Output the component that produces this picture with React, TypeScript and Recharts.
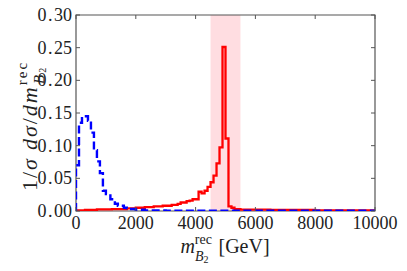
import { LineChart, Line, XAxis, YAxis, ReferenceArea } from 'recharts'

// histogram left bin edges [GeV] and heights
const signalEdges = [0, 0, 300, 700, 1200, 1700, 2000, 2300, 2600, 2900, 3200, 3400, 3500, 3700, 3800, 3900, 4100, 4200, 4300, 4400, 4500, 4600, 4700, 4800, 4900, 5000, 5100, 5200, 5300, 5500, 6500, 8000, 10000]
const signalValues = [0, 0.0008, 0.0015, 0.0025, 0.003, 0.004, 0.005, 0.006, 0.007, 0.008, 0.0095, 0.011, 0.013, 0.015, 0.016, 0.018, 0.0295, 0.027, 0.031, 0.037, 0.044, 0.054, 0.073, 0.0975, 0.251, 0.111, 0.007, 0.005, 0.003, 0.002, 0.0015, 0.001, 0.001]

const bkgEdges = [0, 0, 100, 200, 400, 500, 600, 700, 800, 900, 1000, 1150, 1300, 1400, 1600, 1700, 1800, 2000, 2300, 3000, 10000]
const bkgValues = [0, 0.07, 0.135, 0.145, 0.138, 0.12, 0.093, 0.076, 0.058, 0.031, 0.026, 0.018, 0.011, 0.008, 0.005, 0.004, 0.003, 0.002, 0.001, 0.0005, 0.0005]

const xTicks = [0, 2000, 4000, 6000, 8000, 10000]
const yTicks = [0, 0.05, 0.1, 0.15, 0.2, 0.25, 0.3]
const massWindow = [4500, 5500]

const signalData = signalEdges.map((m, i) => ({ m, v: signalValues[i] }))
const bkgData = bkgEdges.map((m, i) => ({ m, v: bkgValues[i] }))

const W = 407
const H = 271
const PLOT_W = 299
const PLOT_H = 196
const FRAME = '#555'
const serif = { fontFamily: "'Liberation Serif'" }

function XTick({ x, y, payload }: any) {
  return (
    <g>
      <line x1={x} y1={y} x2={x} y2={y - 4} stroke={FRAME} />
      <line x1={x} y1={y - PLOT_H} x2={x} y2={y - PLOT_H + 4} stroke={FRAME} />
      <text x={x} y={y + 18} textAnchor="middle" style={serif} fontSize={18} fill="#222">
        {payload.value}
      </text>
    </g>
  )
}

function YTick({ x, y, payload }: any) {
  const [a, b] = Number(payload.value).toFixed(2).split('.')
  return (
    <g>
      <line x1={x} y1={y} x2={x + 4} y2={y} stroke={FRAME} />
      <line x1={x + PLOT_W} y1={y} x2={x + PLOT_W - 4} y2={y} stroke={FRAME} />
      <text x={x - 4} y={y + 6} textAnchor="end" style={serif} fontSize={18} fill="#222">
        {a}<tspan dx={1.5}>.</tspan><tspan dx={1.5}>{b}</tspan>
      </text>
    </g>
  )
}

export default function App() {
  return (
    <div style={{ position: 'fixed', left: 0, top: 0, width: W, height: H, background: '#fff' }}>
      <LineChart width={W} height={H} margin={{ top: 15, right: 32, bottom: 30, left: 16 }}>
        <ReferenceArea x1={massWindow[0]} x2={massWindow[1]} y1={0} y2={0.3} fill="#ffdde1" fillOpacity={1} stroke="none" />
        <ReferenceArea x1={0} x2={10000} y1={0} y2={0.3} fill="none" stroke={FRAME} strokeWidth={1.2} />
        <XAxis
          dataKey="m"
          type="number"
          domain={[0, 10000]}
          ticks={xTicks}
          allowDataOverflow
          height={30}
          axisLine={false}
          tickLine={false}
          tickSize={0}
          tickMargin={0}
          tick={<XTick />}
          interval={0}
        />
        <YAxis
          type="number"
          domain={[0, 0.3]}
          ticks={yTicks}
          allowDataOverflow
          width={60}
          axisLine={false}
          tickLine={false}
          tickSize={0}
          tickMargin={0}
          tick={<YTick />}
          interval={0}
        />
        <Line data={signalData} dataKey="v" type="stepAfter" stroke="#ff0000" strokeWidth={2.3} dot={false} isAnimationActive={false} />
        <Line data={bkgData} dataKey="v" type="stepAfter" stroke="#0000ff" strokeWidth={2.4} strokeDasharray="8 3.5" dot={false} isAnimationActive={false} />
      </LineChart>
      <svg width={W} height={H} style={{ position: 'absolute', left: 0, top: 0, pointerEvents: 'none' }}>
        <text transform="translate(37,126) rotate(-90)" textAnchor="middle" style={{ ...serif, letterSpacing: 2 }} fontSize={22} fill="#222">
          <tspan>1/</tspan>
          <tspan fontStyle="italic">σ</tspan>
          <tspan dx={7} fontStyle="italic">dσ</tspan>
          <tspan>/</tspan>
          <tspan fontStyle="italic">dm</tspan>
          <tspan fontSize={15} dy={-10}>rec</tspan>
          <tspan fontSize={15} fontStyle="italic" dx={-23} dy={17}>B</tspan>
          <tspan fontSize={10} dy={2}>2</tspan>
        </text>
        <text x={225} y={253} textAnchor="middle" style={serif} fontSize={20} fill="#222">
          <tspan fontStyle="italic">m</tspan>
          <tspan fontSize={14} dy={-9}>rec</tspan>
          <tspan fontSize={14} fontStyle="italic" dx={-17} dy={17}>B</tspan>
          <tspan fontSize={10} dy={2}>2</tspan>
          <tspan dx={10} dy={-10}>[GeV]</tspan>
        </text>
      </svg>
    </div>
  )
}
